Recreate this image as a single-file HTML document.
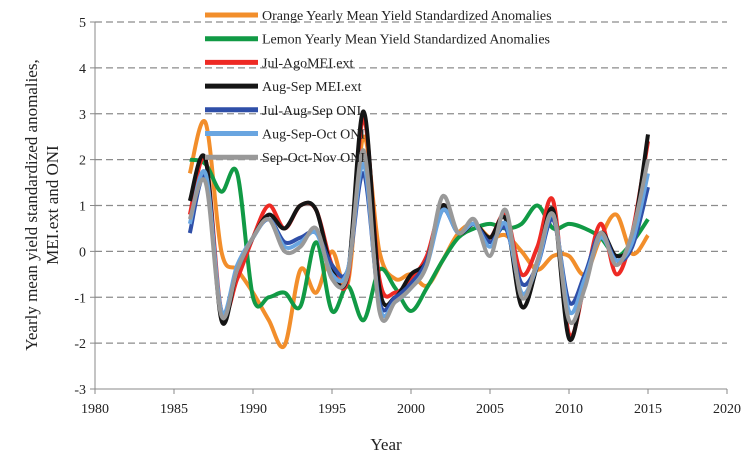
<!DOCTYPE html>
<html><head><meta charset="utf-8"><style>
body{margin:0;background:#fff;}
svg text{font-family:"Liberation Serif",serif;fill:#222;}
</style></head><body>
<svg id="c" width="750" height="460"></svg>
<script>
const years=[1986,1987,1988,1989,1990,1991,1992,1993,1994,1995,1996,1997,1998,1999,2000,2001,2002,2003,2004,2005,2006,2007,2008,2009,2010,2011,2012,2013,2014,2015];
const orange=[1.7,2.8,0.0,-0.4,-0.9,-1.5,-2.05,-0.4,-0.9,0.0,-0.7,2.5,0.0,-0.6,-0.5,-0.75,-0.2,0.4,0.6,0.3,0.35,0.0,-0.4,-0.1,-0.1,-0.5,0.3,0.8,-0.05,0.35];
const green=[2.0,1.9,1.3,1.7,-1.0,-1.0,-0.9,-1.2,0.2,-1.3,-0.75,-1.5,-0.4,-0.8,-1.3,-0.8,-0.2,0.3,0.5,0.6,0.5,0.6,1.0,0.5,0.6,0.5,0.3,-0.1,0.2,0.7];
const red=[0.8,2.0,-1.3,-0.6,0.3,1.0,0.5,1.0,0.9,-0.3,-0.6,2.9,-0.6,-0.9,-0.6,-0.1,1.0,0.4,0.6,0.3,0.8,-0.5,0.1,1.1,-1.8,-0.7,0.6,-0.5,0.4,2.4];
const black=[1.1,2.0,-1.5,-0.4,0.3,0.8,0.5,1.0,0.9,-0.4,-0.5,3.05,-0.8,-1.0,-0.5,-0.2,1.0,0.4,0.6,0.3,0.7,-1.2,-0.3,0.9,-1.9,-0.6,0.4,-0.1,0.3,2.55];
const blue=[0.4,1.6,-1.3,-0.4,0.3,0.7,0.2,0.3,0.4,-0.3,-0.4,1.7,-1.1,-1.0,-0.7,-0.2,0.9,0.4,0.6,0.2,0.5,-0.7,-0.3,0.7,-1.1,-0.5,0.4,-0.2,0.1,1.4];
const lblue=[0.6,1.7,-1.3,-0.3,0.3,0.7,0.1,0.2,0.4,-0.5,-0.4,1.9,-1.2,-1.1,-0.8,-0.3,0.9,0.4,0.6,0.1,0.6,-0.9,-0.3,0.8,-1.3,-0.6,0.3,-0.2,0.2,1.7];
const gray=[0.7,1.5,-1.4,-0.4,0.3,0.7,0.0,0.1,0.5,-0.6,-0.5,2.2,-1.3,-1.1,-0.8,-0.3,1.2,0.4,0.7,-0.1,0.9,-1.0,-0.2,0.8,-1.5,-0.8,0.4,-0.3,0.4,2.0];
const xTicks=[1980,1985,1990,1995,2000,2005,2010,2015,2020];
const yTicks=[-3,-2,-1,0,1,2,3,4,5];
const seriesNames=["Orange Yearly Mean Yield Standardized Anomalies","Lemon Yearly Mean Yield Standardized Anomalies","Jul-AgoMEI.ext","Aug-Sep MEI.ext","Jul-Aug-Sep ONI","Aug-Sep-Oct ONI","Sep-Oct-Nov ONI"];

const X0=95,X1=727,Y0=389,Y1=22;
const xs=v=>X0+(v-1980)/40*(X1-X0);
const ys=v=>Y0-(v+3)/8*(Y0-Y1);
const svg=document.getElementById('c');
const NS='http://www.w3.org/2000/svg';
function mk(t,a,p){const e=document.createElementNS(NS,t);for(const k in a)e.setAttribute(k,a[k]);(p||svg).appendChild(e);return e;}

yTicks.forEach(v=>{
  if(v>-3){const g=mk('line',{x1:X0,x2:X1,y1:ys(v),y2:ys(v),stroke:'#8c8c8c','stroke-width':1.3,'stroke-dasharray':'7,4'});
  
  }
  const t=mk('text',{x:X0-9,y:ys(v)+5,'text-anchor':'end','font-size':14});t.textContent=v;
  
  
  mk('line',{x1:X0-5,x2:X0,y1:ys(v),y2:ys(v),stroke:'#888'});
});
xTicks.forEach(v=>{
  const t=mk('text',{x:xs(v),y:Y0+24,'text-anchor':'middle','font-size':14});t.textContent=v;
  
  
  mk('line',{x1:xs(v),x2:xs(v),y1:Y0,y2:Y0+5,stroke:'#888'});
});
mk('line',{x1:X0,x2:X0,y1:Y1,y2:Y0,stroke:'#888'});
mk('line',{x1:X0,x2:X1,y1:Y0,y2:Y0,stroke:'#888'});

function path(vals){
  const p=vals.map((v,i)=>[xs(years[i]),ys(v)]);
  let d='M'+p[0][0]+','+p[0][1];
  for(let i=0;i<p.length-1;i++){
    const a=p[Math.max(0,i-1)],b=p[i],c=p[i+1],e=p[Math.min(p.length-1,i+2)];
    const c1=[b[0]+(c[0]-a[0])/6,b[1]+(c[1]-a[1])/6],c2=[c[0]-(e[0]-b[0])/6,c[1]-(e[1]-b[1])/6];
    d+=' C'+c1+' '+c2+' '+c;
  }
  return d;
}
const all=[orange,green,red,black,blue,lblue,gray];
const colors=['#f28e2b','#119a45','#ee2a24','#151515','#2f4fa8','#69a5e0','#999999'];
const keys=['orange','lemon','jul-ago-mei','aug-sep-mei','jul-aug-sep-oni','aug-sep-oct-oni','sep-oct-nov-oni'];
all.forEach((s,i)=>{
  const e=mk('path',{d:path(s),fill:'none',stroke:colors[i],'stroke-width':4,'stroke-linejoin':'round'});
  
  
});
seriesNames.forEach((n,i)=>{
  const y=15+i*23.7;
  const l=mk('line',{x1:205,x2:258,y1:y,y2:y,stroke:colors[i],'stroke-width':5});
  
  
  const t=mk('text',{x:262,y:y+5,'font-size':14});t.textContent=n;
  
  
});
const xt=mk('text',{x:386,y:450,'text-anchor':'middle','font-size':17});xt.textContent='Year';


const yt=mk('text',{transform:'translate(37,205) rotate(-90)','text-anchor':'middle','font-size':17});yt.textContent='Yearly mean yield standardized anomalies,';


const yt2=mk('text',{transform:'translate(58,205) rotate(-90)','text-anchor':'middle','font-size':17});yt2.textContent='MEI.ext and ONI';


</script>
</body></html>
